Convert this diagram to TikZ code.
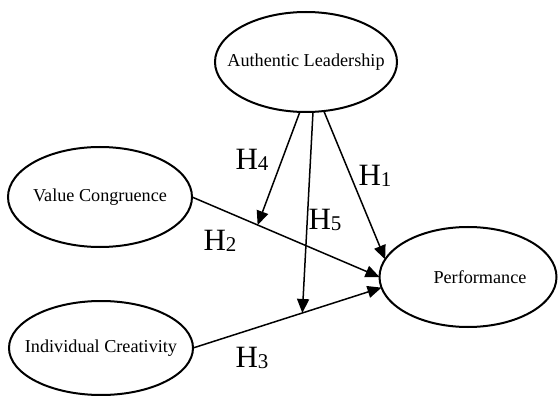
\documentclass[tikz,border=0pt]{standalone}
\usepackage{fontspec}
\setmainfont{Liberation Serif}
\usetikzlibrary{shapes.geometric,arrows.meta}
\newcommand{\hyp}[1]{H\raisebox{-1.5pt}{\fontsize{21}{21}\selectfont #1}}
\begin{document}
\begin{tikzpicture}[x=1pt,y=-1pt,
  ell/.style={ellipse, draw, line width=2pt, inner sep=0pt, outer sep=0pt},
  lab/.style={font=\fontsize{18.2}{20}\selectfont, inner sep=0pt},
  hlab/.style={font=\fontsize{31}{34}\selectfont, inner sep=0pt},
  arr/.style={line width=1.5pt, -{Triangle[length=14pt,width=12pt]}}]
\useasboundingbox (0,0) rectangle (558,396);
\node[ell, minimum width=182pt, minimum height=100pt] (al) at (306,62) {};
\node[ell, minimum width=184pt, minimum height=100pt] (vc) at (100,197) {};
\node[ell, minimum width=184pt, minimum height=94pt] (ic) at (101,348) {};
\node[ell, minimum width=177pt, minimum height=100pt] (perf) at (468,277) {};
\node[lab] (alt) at (al) {Authentic Leadership};
\node[lab] (vct) at (vc) {Value Congruence};
\node[lab] (ict) at (ic) {Individual Creativity};
\node[lab] (perft) at (480,277) {Performance};
\draw[arr] (vc.east) -- coordinate[pos=0.35] (m2) (perf.west);
\draw[arr] (ic.east) -- coordinate[pos=0.58] (m3) (perf.187);
\draw[arr] (al.290) -- (perf.168);
\draw[arr] (al.263) -- (m2);
\draw[arr] (al.278) -- (m3);
\node[hlab] (h1) at (375,176) {\hyp{1}};
\node[hlab] (h2) at (220,241) {\hyp{2}};
\node[hlab] (h3) at (252,358) {\hyp{3}};
\node[hlab] (h4) at (252,160) {\hyp{4}};
\node[hlab] (h5) at (325,220) {\hyp{5}};
\end{tikzpicture}
\end{document}
